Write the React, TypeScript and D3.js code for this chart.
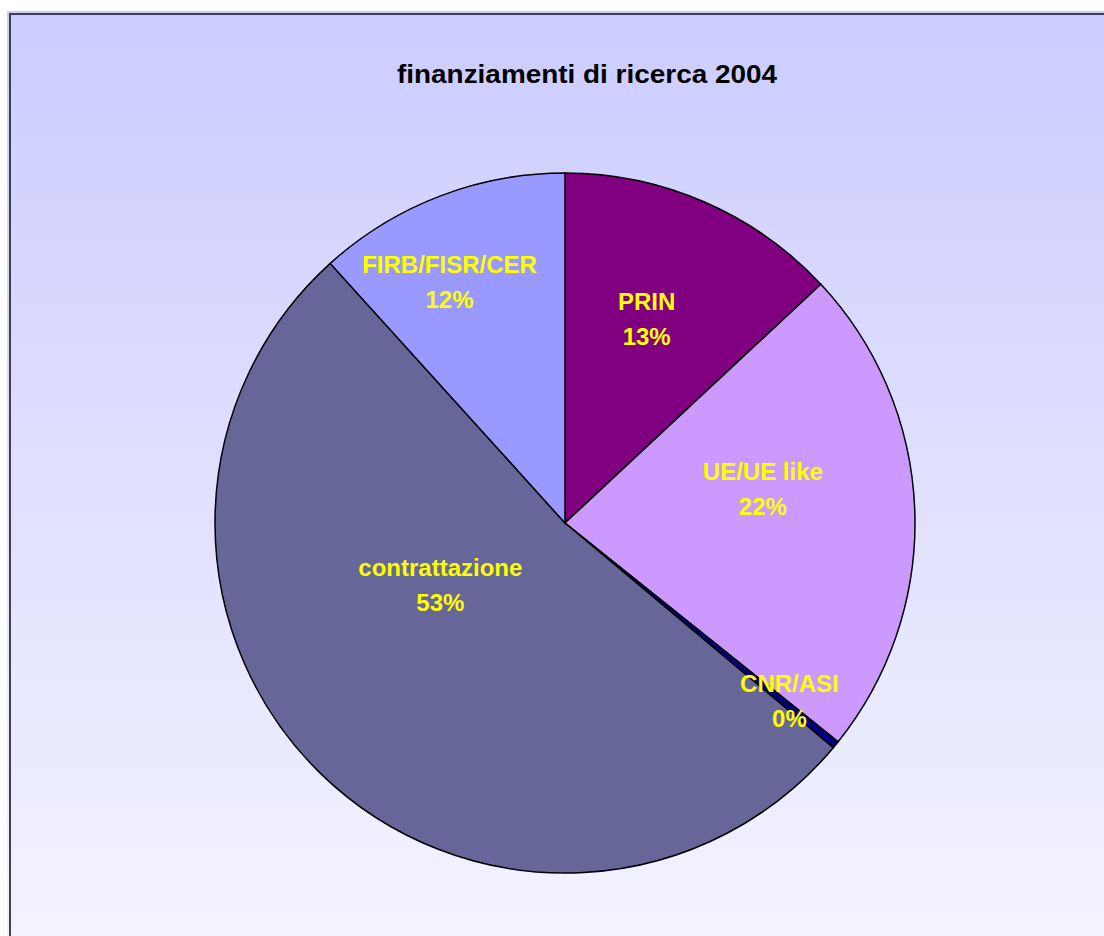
import React from "react";
import * as d3 from "d3";

document.body.style.margin = "0";

const categories = ["PRIN", "UE/UE like", "CNR/ASI", "contrattazione", "FIRB/FISR/CER"];
const values = [13.05, 22.7, 0.35, 52.2, 11.7];
const percentLabels = ["13%", "22%", "0%", "53%", "12%"];
const colors = ["#800080", "#cc99ff", "#000080", "#666699", "#9999ff"];
// label nudges relative to the label-arc centroid
const labelNudges: [number, number][] = [
  [-2, -12],
  [-12, -27],
  [62, 44],
  [21, -90],
  [-40, -46],
];

const W = 1104;
const H = 936;

export default function App() {
  const cx = 565;
  const cy = 523;
  const r = 350;
  const pie = d3.pie<number>().sort(null).value((d) => d)(values);
  const arc = d3.arc<d3.PieArcDatum<number>>().innerRadius(0).outerRadius(r);
  const labelArc = d3.arc<d3.PieArcDatum<number>>().innerRadius(r * 0.6).outerRadius(r * 0.6);

  return (
    <svg width={W} height={H} style={{ display: "block" }}>
      <defs>
        <linearGradient id="bg" x1="0" y1="0" x2="0" y2="1">
          <stop offset="0" stopColor="#ccccff" />
          <stop offset="1" stopColor="#f3f3ff" />
        </linearGradient>
      </defs>
      <rect x={0} y={0} width={W} height={H} fill="#ffffff" />
      <rect x={7} y={11} width={W - 7} height={H - 11} fill="url(#bg)" />
      <path d={`M10,${H} V14 H${W}`} fill="none" stroke="#404050" strokeWidth={2} />
      <text
        x={587}
        y={83}
        textAnchor="middle"
        fontFamily="Liberation Sans, Arial, sans-serif"
        fontWeight="bold"
        fontSize={26}
        textLength={380}
        lengthAdjust="spacingAndGlyphs"
        fill="#000"
      >
        finanziamenti di ricerca 2004
      </text>
      <g transform={`translate(${cx},${cy})`}>
        {pie.map((p, i) => (
          <path key={i} d={arc(p) || ""} fill={colors[i]} stroke="#000" strokeWidth={1.5} />
        ))}
        {pie.map((p, i) => {
          const [x, y] = labelArc.centroid(p);
          const lx = x + labelNudges[i][0];
          const ly = y + labelNudges[i][1];
          return (
            <text
              key={"l" + i}
              x={lx}
              y={ly}
              textAnchor="middle"
              fontFamily="Liberation Sans, Arial, sans-serif"
              fontWeight="bold"
              fontSize={24}
              fill="#ffff00"
            >
              <tspan x={lx} dy={-8}>{categories[i]}</tspan>
              <tspan x={lx} dy={35}>{percentLabels[i]}</tspan>
            </text>
          );
        })}
      </g>
    </svg>
  );
}
